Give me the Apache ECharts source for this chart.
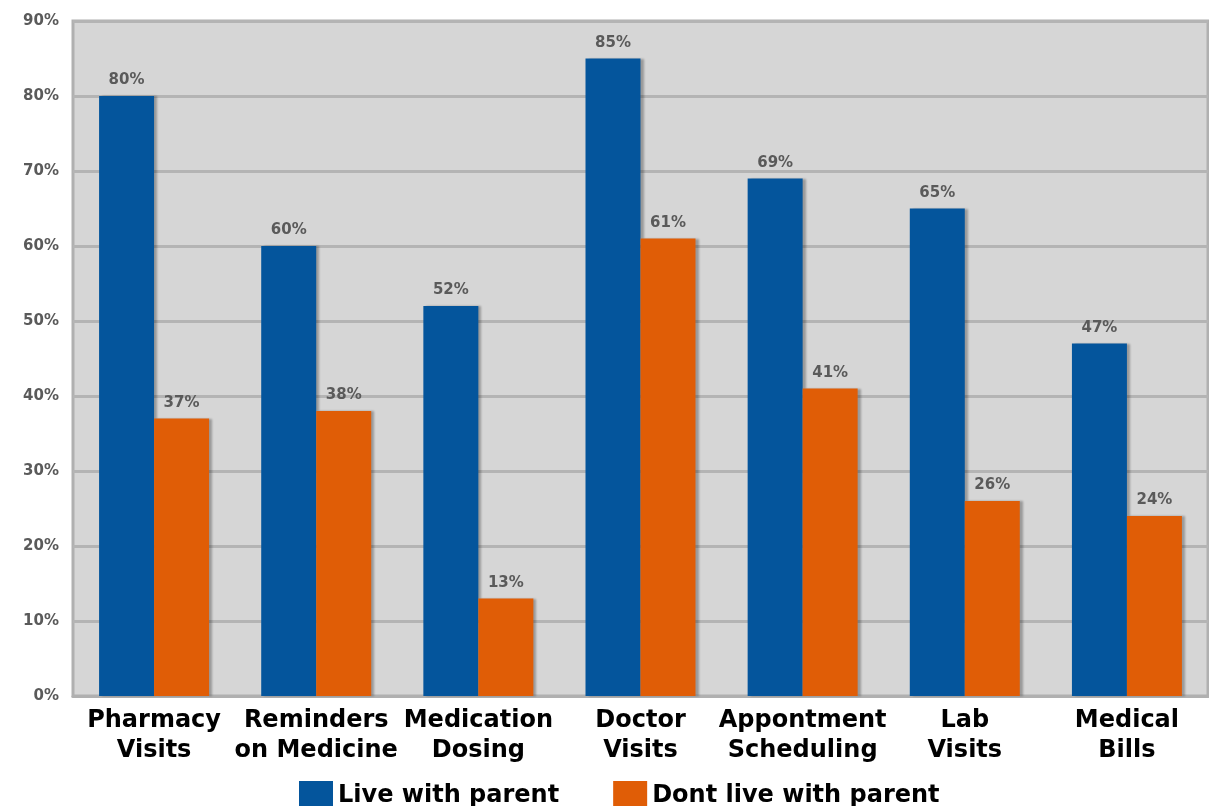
<!DOCTYPE html>
<html>
<head>
<meta charset="utf-8">
<script src="https://cdn.jsdelivr.net/npm/echarts@6/dist/echarts.min.js"></script>
<style>
  html, body { margin: 0; padding: 0; background: #ffffff; }
  #chart { width: 1209px; height: 806px; }
</style>
</head>
<body>
<div id="chart"></div>
<script>
// Share of adult children helping a parent with each health task
const categories = [
  'Pharmacy\nVisits',
  'Reminders\non Medicine',
  'Medication\nDosing',
  'Doctor\nVisits',
  'Appontment\nScheduling',
  'Lab\nVisits',
  'Medical\nBills'
];
const liveWithParent = [80, 60, 52, 85, 69, 65, 47];
const dontLiveWithParent = [37, 38, 13, 61, 41, 26, 24];
const seriesNames = ['Live with parent', 'Dont live with parent'];

const BLUE = '#04559c';
const ORANGE = '#e05d06';
const FONT = 'DejaVu Sans';

const valueLabel = {
  show: true,
  position: 'top',
  distance: 8,
  formatter: '{c}%',
  fontFamily: FONT,
  fontWeight: 'bold',
  fontSize: 15,
  color: '#5a5a5a'
};

const barShadow = {
  shadowColor: 'rgba(0,0,0,0.28)',
  shadowBlur: 2,
  shadowOffsetX: 3,
  shadowOffsetY: 0
};

const chart = echarts.init(document.getElementById('chart'), null, { renderer: 'canvas' });
chart.setOption({
  animation: false,
  backgroundColor: '#ffffff',
  grid: {
    left: 73, right: 1, top: 21, bottom: 110,
    show: true,
    backgroundColor: '#d6d6d6',
    borderColor: '#b0b0b0',
    borderWidth: 3
  },
  legend: {
    left: 294, top: 776,
    itemWidth: 34, itemHeight: 30, itemGap: 54,
    icon: 'rect',
    textStyle: { fontFamily: FONT, fontWeight: 'bold', fontSize: 24, color: '#000' },
    data: seriesNames
  },
  xAxis: {
    type: 'category',
    data: categories,
    axisLine: { show: true, lineStyle: { color: '#b0b0b0', width: 3 } },
    axisTick: { show: false },
    axisLabel: {
      interval: 0, margin: 10,
      fontFamily: FONT, fontWeight: 'bold', fontSize: 24, lineHeight: 30,
      color: '#000'
    }
  },
  yAxis: {
    type: 'value',
    min: 0, max: 90, interval: 10,
    axisLine: { show: false },
    axisTick: { show: false },
    axisLabel: {
      formatter: '{value}%', margin: 14,
      fontFamily: FONT, fontWeight: 'bold', fontSize: 15, color: '#5a5a5a'
    },
    splitLine: { show: true, lineStyle: { color: '#b4b4b4', width: 3 } }
  },
  series: [
    {
      name: seriesNames[0], type: 'bar', data: liveWithParent,
      barWidth: 55, barGap: '0%',
      itemStyle: Object.assign({ color: BLUE }, barShadow),
      label: valueLabel
    },
    {
      name: seriesNames[1], type: 'bar', data: dontLiveWithParent,
      barWidth: 55,
      itemStyle: Object.assign({ color: ORANGE }, barShadow),
      label: valueLabel
    }
  ]
});
</script>
</body>
</html>
